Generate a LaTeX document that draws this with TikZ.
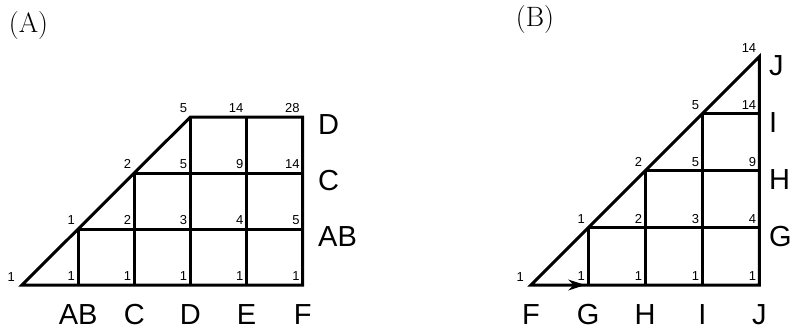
\documentclass[tikz,border=0pt]{standalone}
\usepackage{fontspec}
\newfontfamily\hv{Liberation Sans}
\usetikzlibrary{arrows.meta}
\begin{document}
\begin{tikzpicture}[x=1pt,y=-1pt,
  gridline/.style={line width=3pt, line join=miter},
  num/.style={anchor=south east, inner sep=0pt, font=\hv\fontsize{13}{13}\selectfont},
  big/.style={inner sep=0pt, font=\hv\fontsize{29}{29}\selectfont},
  panel/.style={inner sep=0pt, font=\fontsize{28}{28}\selectfont}]
\useasboundingbox (0,0) rectangle (794,330);
% grid coordinates
\foreach \i in {0,...,5}{\foreach \j in {0,...,3}{
  \coordinate (A-\i-\j) at ({22+56.14*\i},{285-56*\j});}}
\foreach \i in {0,...,4}{\foreach \j in {0,...,4}{
  \coordinate (B-\i-\j) at ({531+57.1*\i},{285-57.1*\j});}}
% panel labels
\node[panel] (labA) at (28.5,26) {(A)};
\node[panel] (labB) at (535,20) {(B)};
% panel A grid
\draw[gridline] (A-0-0) -- (A-3-3) -- (A-5-3) -- (A-5-0) -- cycle;
\foreach \j in {1,2}{\draw[gridline] (A-\j-\j) -- (A-5-\j);}
\draw[gridline] (A-1-0) -- (A-1-1);
\draw[gridline] (A-2-0) -- (A-2-2);
\draw[gridline] (A-3-0) -- (A-3-3);
\draw[gridline] (A-4-0) -- (A-4-3);
% panel B grid
\draw[gridline] (B-0-0) -- (B-4-4) -- (B-4-0) -- cycle;
\foreach \j in {1,2,3}{\draw[gridline] (B-\j-\j) -- (B-4-\j);}
\foreach \i in {1,2,3}{\draw[gridline] (B-\i-0) -- (B-\i-\i);}
\draw[line width=1pt, -{Stealth[length=17pt,width=11pt]}, shorten >=3pt] (B-0-0) -- (B-1-0);
% numbers A
\node[num] (nA00) at ([shift={(-7,-3)}]A-0-0) {1};
\foreach \i/\j/\v in {1/0/1,2/0/1,3/0/1,4/0/1,5/0/1,
  1/1/1,2/1/2,3/1/3,4/1/4,5/1/5,
  2/2/2,3/2/5,4/2/9,5/2/14,
  3/3/5,4/3/14,5/3/28}{
  \node[num] (nA\i\j) at ([shift={(-3,-4)}]A-\i-\j) {\v};}
% numbers B
\node[num] (nB00) at ([shift={(-7,-3)}]B-0-0) {1};
\foreach \i/\j/\v in {1/0/1,2/0/1,3/0/1,4/0/1,
  1/1/1,2/1/2,3/1/3,4/1/4,
  2/2/2,3/2/5,4/2/9,
  3/3/5,4/3/14,
  4/4/14}{
  \node[num] (nB\i\j) at ([shift={(-3,-4)}]B-\i-\j) {\v};}
% big labels A
\foreach \i/\t in {1/AB,2/C,3/D,4/E,5/F}{
  \node[big] (bA\i) at ([shift={(0,30)}]A-\i-0) {\t};}
\foreach \j/\t in {1/AB,2/C,3/D}{
  \node[big, anchor=west] (rA\j) at ([shift={(0,8)}]A-5-\j -| 318,0) {\t};}
% big labels B
\foreach \i/\t in {0/F,1/G,2/H,3/I,4/J}{
  \node[big] (bB\i) at ([shift={(0,30)}]B-\i-0) {\t};}
\foreach \j/\t in {1/G,2/H,3/I,4/J}{
  \node[big, anchor=west] (rB\j) at ([shift={(0,9)}]B-4-\j -| 769,0) {\t};}
\end{tikzpicture}
\end{document}
